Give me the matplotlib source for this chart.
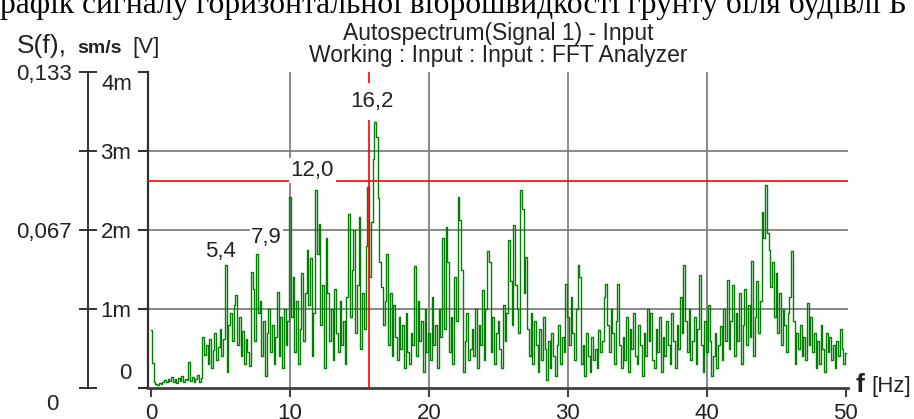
import numpy as np
import matplotlib
matplotlib.use('Agg')
import matplotlib.pyplot as plt

# autospectrum, one value per 0.125 Hz bin, in mV
freq_step = 0.125
spectrum_mV = [
    0.73, 0.32, 0.08, 0.05, 0.04, 0.06, 0.05, 0.08,
    0.10, 0.07, 0.12, 0.09, 0.14, 0.08, 0.11, 0.06,
    0.13, 0.09, 0.15, 0.07, 0.12, 0.10, 0.33, 0.09,
    0.14, 0.08, 0.12, 0.16, 0.07, 0.13, 0.65, 0.42,
    0.55, 0.30, 0.62, 0.25, 0.48, 0.70, 0.35, 0.52,
    0.75, 0.40, 0.62, 1.56, 0.20, 0.80, 0.95, 0.60,
    1.05, 1.18, 0.55, 0.90, 0.40, 0.72, 0.30, 0.62,
    0.45, 0.28, 1.47, 1.25, 0.60, 1.70, 0.95, 1.10,
    0.40, 0.85, 0.15, 0.70, 1.00, 0.45, 0.80, 0.30,
    0.65, 1.22, 0.40, 0.90, 0.25, 1.00, 0.55, 0.85,
    2.42, 0.90, 1.40, 0.45, 1.10, 0.30, 0.75, 1.45,
    0.60, 1.20, 1.75, 1.05, 1.65, 0.40, 0.95, 2.51,
    1.70, 2.08, 0.80, 1.30, 0.25, 1.90, 1.20, 0.60,
    1.00, 0.35, 1.25, 0.70, 0.45, 1.10, 0.55, 0.85,
    0.30, 1.15, 2.20, 0.90, 1.50, 2.00, 0.70, 1.30,
    2.17, 0.50, 1.20, 0.75, 1.80, 2.55, 1.40, 2.10,
    2.90, 3.37, 3.18, 2.40, 1.60, 1.28, 0.80, 1.10,
    1.70, 0.55, 1.20, 0.40, 1.05, 0.65, 0.35, 0.90,
    0.50, 0.80, 0.25, 0.95, 0.45, 0.30, 0.70, 0.55,
    1.54, 0.40, 1.10, 0.60, 0.85, 0.20, 1.00, 0.45,
    0.70, 0.35, 1.15, 0.55, 0.80, 0.25, 1.00, 0.65,
    1.90, 0.75, 2.04, 1.60, 0.45, 0.90, 0.30, 1.40,
    0.85, 2.42, 2.13, 1.50, 0.20, 0.60, 0.95, 0.35,
    0.50, 0.75, 0.40, 1.00, 0.25, 0.80, 0.55, 1.24,
    0.35, 1.00, 1.73, 1.60, 0.45, 0.90, 0.30, 0.70,
    0.85, 0.50, 0.25, 1.05, 0.60, 0.95, 1.87, 1.35,
    0.80, 2.06, 1.30, 1.00, 0.70, 2.51, 2.27, 1.20,
    1.66, 0.75, 0.40, 0.95, 0.30, 0.85, 0.55, 0.20,
    0.75, 0.35, 0.90, 0.50, 0.10, 0.60, 0.25, 0.70,
    0.40, 0.15, 0.55, 0.80, 0.30, 0.65, 0.45, 1.32,
    0.90, 0.55, 1.15, 0.70, 0.35, 1.00, 1.56, 1.40,
    0.30, 0.55, 0.15, 0.70, 0.40, 0.20, 0.65, 0.35,
    0.50, 0.25, 0.73, 0.45, 0.60, 1.15, 1.32, 0.80,
    0.45, 1.00, 0.70, 0.30, 0.85, 1.32, 0.55, 0.25,
    0.65, 0.35, 0.90, 0.20, 0.75, 0.50, 0.95, 0.40,
    0.30, 0.80, 0.55, 0.15, 0.70, 0.40, 1.00, 0.60,
    0.95, 0.35, 0.25, 0.75, 0.45, 0.90, 0.20, 0.65,
    0.40, 0.85, 0.55, 0.30, 0.95, 0.60, 0.25, 0.80,
    0.50, 1.15, 0.70, 1.56, 0.85, 0.45, 1.00, 0.35,
    0.60, 0.90, 0.30, 0.75, 1.43, 0.55, 0.20, 0.85,
    0.45, 1.05, 0.60, 0.15, 0.40, 0.70, 0.25, 0.55,
    0.78, 0.35, 1.00, 0.60, 1.37, 0.50, 0.85, 1.30,
    0.40, 0.95, 0.60, 1.20, 0.30, 0.80, 1.25, 0.55,
    1.05, 0.65, 1.61, 0.40, 0.90, 1.35, 0.70, 1.10,
    2.23, 1.90, 2.57, 1.96, 1.75, 1.28, 1.60, 0.90,
    1.45, 0.70, 1.20, 0.55, 1.00, 0.80, 0.45, 0.95,
    1.15, 1.73, 0.85, 0.30, 0.70, 0.50, 0.80, 0.40,
    0.65, 0.35, 1.07, 0.55, 0.90, 0.45, 0.70, 0.25,
    0.60, 0.30, 0.80, 0.50, 0.20, 0.70, 0.45, 0.65,
    0.35, 0.55, 0.25, 0.60, 0.40, 0.75, 0.50, 0.30,
    0.44,
]

x_ticks = [0, 10, 20, 30, 40, 50]
y_ticks = [0, 1, 2, 3, 4]
y_tick_labels = ['0', '1m', '2m', '3m', '4m']
outer_max = 0.133
outer_labels = ['0', '', '0,067', '', '0,133']

cursor_freq = 15.65
cursor_level_mV = 2.62
peak_labels = ['5,4', '7,9', '12,0', '16,2']

head_text = 'рафік сигналу горизонтальної віброшвидкості грунту біля будівлі Б'
title1 = 'Autospectrum(Signal 1) - Input'
title2 = 'Working : Input : Input : FFT Analyzer'

W, H = 914, 419
plt.rcParams['font.family'] = ['Liberation Sans', 'DejaVu Sans']
txt = '#222222'

freq = np.arange(len(spectrum_mV)) * freq_step
spec = np.array(spectrum_mV)

fig = plt.figure(figsize=(W / 100, H / 100), dpi=100)
ax = fig.add_axes([148 / W, 1 - 388 / H, 700 / W, 316 / H])

ax.plot(freq, spec, color='#008000', lw=1.0, drawstyle='steps-mid', zorder=3)
ax.set_xlim(-0.22, 50.15)
ax.set_ylim(0, 4)

# grid only at inner ticks
for v in x_ticks[1:-1]:
    ax.axvline(v, color='#808080', lw=1.3, zorder=1)
for v in y_ticks[1:-1]:
    ax.axhline(v, color='#808080', lw=1.3, zorder=1)

# cursors
ax.axvline(cursor_freq, color='#ff0000', lw=1.2, zorder=4)
ax.axhline(cursor_level_mV, color='#ff0000', lw=1.2, zorder=4)

for s in ['top', 'right']:
    ax.spines[s].set_visible(False)
ax.spines['left'].set_color('#303030')
ax.spines['left'].set_linewidth(1.6)
ax.spines['bottom'].set_color('#404040')
ax.spines['bottom'].set_linewidth(2.0)

ax.set_xticks(x_ticks)
ax.set_xticklabels([str(t) for t in x_ticks])
ax.set_yticks(y_ticks)
ax.set_yticklabels([''] + y_tick_labels[1:-1] + [''])
ax.tick_params(axis='y', direction='out', length=7, width=1.5, pad=5,
               labelsize=16, colors='#303030', labelcolor=txt)
ax.tick_params(axis='x', direction='out', length=6.5, width=1.5, pad=4,
               labelsize=16, colors='#404040', labelcolor=txt)

# end labels of the inner axis are pushed inward
ytr = ax.get_yaxis_transform()
ax.text(-0.0229, 0.18, y_tick_labels[0], transform=ytr, ha='right',
        va='center', fontsize=16, color=txt)
ax.text(-0.0229, 3.84, y_tick_labels[-1], transform=ytr, ha='right',
        va='center', fontsize=16, color=txt)

# outer axis in sm/s
scale = outer_max / y_ticks[-1]
sec = ax.secondary_yaxis(-60 / 700, functions=(lambda v: v * scale,
                                               lambda v: v / scale))
sec.set_yticks([t * scale for t in y_ticks])
sec.set_yticklabels([''] + outer_labels[1:])
sec.tick_params(direction='inout', length=13, width=1.3, pad=5,
                labelsize=16, colors=txt)
sec.spines['left'].set_color(txt)
sec.spines['left'].set_linewidth(1.3)
fig.text(52.5 / W, 1 - 404 / H, outer_labels[0], ha='center', va='center',
         fontsize=16, color=txt)

# peak labels above the local maxima
offsets = [(-4, 2), (4, 4), (-4, 6), (-3, 7)]
pads = [1.0, 1.0, 1.5, 6.0]
for lab, (dx, dy), pd in zip(peak_labels, offsets, pads):
    f0 = float(lab.replace(',', '.'))
    near = np.abs(freq - f0) <= 0.45
    ymax = spec[near].max()
    ax.annotate(lab, xy=(f0, ymax), xytext=(dx, dy), textcoords='offset points',
                ha='center', va='bottom', fontsize=16, color=txt, zorder=6,
                bbox=dict(fc='white', ec='none', pad=pd))

# headings
fig.text(0.0, 1 - 13 / H, head_text, family='Liberation Serif', fontsize=22.7,
         ha='left', va='baseline', color='black')
fig.text(498 / W, 1 - 40 / H, title1, ha='center', va='baseline', fontsize=16.5,
         color=txt)
fig.text(498 / W, 1 - 62 / H, title2, ha='center', va='baseline', fontsize=16.5,
         color=txt)

# y label
fig.text(17 / W, 1 - 53 / H, 'S(f),', ha='left', va='baseline', fontsize=19,
         color=txt)
fig.text(77 / W, 1 - 53 / H, 'sm/s', ha='left', va='baseline', fontsize=14,
         weight='bold', color=txt)
fig.text(132 / W, 1 - 53 / H, '[V]', ha='left', va='baseline', fontsize=16,
         color=txt)

# x label
fig.text(855 / W, 1 - 392 / H, 'f', ha='left', va='baseline', fontsize=19,
         weight='bold', color=txt)
fig.text(871 / W, 1 - 392 / H, '[Hz]', ha='left', va='baseline', fontsize=16,
         color=txt)

fig.savefig('out.png', dpi=100)
